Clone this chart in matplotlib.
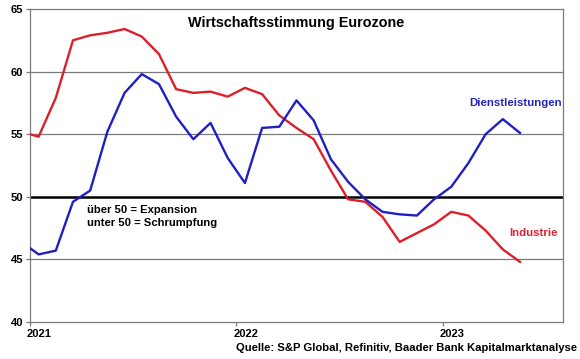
import matplotlib

matplotlib.use("Agg")
import matplotlib.pyplot as plt  # noqa: E402
import matplotlib.transforms as mtransforms  # noqa: E402
import numpy as np  # noqa: E402

# Monthly PMI values, Dec 2020 .. May 2023
industrie = [55.2, 54.8, 57.9, 62.5, 62.9, 63.1, 63.4, 62.8, 61.4, 58.6, 58.3, 58.4,
             58.0, 58.7, 58.2, 56.5, 55.5, 54.6, 52.1, 49.8, 49.6, 48.4, 46.4, 47.1,
             47.8, 48.8, 48.5, 47.3, 45.8, 44.8]
dienstleistungen = [46.4, 45.4, 45.7, 49.6, 50.5, 55.2, 58.3, 59.8, 59.0, 56.4, 54.6, 55.9,
                    53.1, 51.1, 55.5, 55.6, 57.7, 56.1, 53.0, 51.2, 49.8, 48.8, 48.6, 48.5,
                    49.8, 50.8, 52.7, 55.0, 56.2, 55.1]
year_ticks = [0, 12, 24]
year_labels = ["2021", "2022", "2023"]

W, H = 580, 359
FONT = "Liberation Sans"
RED = "#dd1f2a"
BLUE = "#1f1fc4"

# months counted from 1 Jan 2021, points placed mid-month
months = np.arange(len(industrie)) - 0.5

fig = plt.figure(figsize=(W / 100, H / 100), dpi=100)
ax = fig.add_axes([30 / W, 1 - 322 / H, (563 - 30) / W, (322 - 9) / H])

for y in (45, 55, 60):
    ax.axhline(y, color="#7a7a7a", lw=0.9, zorder=1)
ax.axhline(50, color="black", lw=1.8, zorder=1)

ax.plot(months, industrie, color=RED, lw=1.7, zorder=3)
ax.plot(months, dienstleistungen, color=BLUE, lw=1.7, zorder=3)

ax.set_xlim(0, 31)
ax.set_ylim(40, 65)
ax.set_yticks(range(40, 66, 5))
ax.set_xticks(year_ticks)
ax.set_xticklabels(year_labels)
for sp in ax.spines.values():
    sp.set_color("#7a7a7a")
    sp.set_linewidth(0.9)
ax.tick_params(length=3, width=0.9, color="#7a7a7a", pad=2)
for lbl in ax.get_xticklabels() + ax.get_yticklabels():
    lbl.set_fontfamily(FONT)
    lbl.set_fontweight("bold")
    lbl.set_fontsize(8)
offset = mtransforms.ScaledTranslation(-3 / 100, 0, fig.dpi_scale_trans)
for lbl in ax.get_xticklabels():
    lbl.set_horizontalalignment("left")
    lbl.set_transform(lbl.get_transform() + offset)

ax.text(0.5, 0.955, "Wirtschaftsstimmung Eurozone", transform=ax.transAxes,
        ha="center", va="center", fontfamily=FONT, fontweight="bold", fontsize=10.4)
ax.text(0.997, 0.70, "Dienstleistungen", transform=ax.transAxes, ha="right",
        va="center", color="#2525bb", fontfamily=FONT, fontweight="bold", fontsize=8.2)
ax.text(0.99, 0.285, "Industrie", transform=ax.transAxes, ha="right",
        va="center", color="#dd2233", fontfamily=FONT, fontweight="bold", fontsize=8.2)
ax.text(3.3, 48.45, "über 50 = Expansion\nunter 50 = Schrumpfung", ha="left",
        va="center", fontfamily=FONT, fontweight="bold", fontsize=8.1, linespacing=1.4)

fig.text(577 / W, 1 - 348 / H, "Quelle: S&P Global, Refinitiv, Baader Bank Kapitalmarktanalyse",
         ha="right", va="center", fontfamily=FONT, fontweight="bold", fontsize=8.1)

fig.savefig("out.png", dpi=100)
plt.close(fig)
